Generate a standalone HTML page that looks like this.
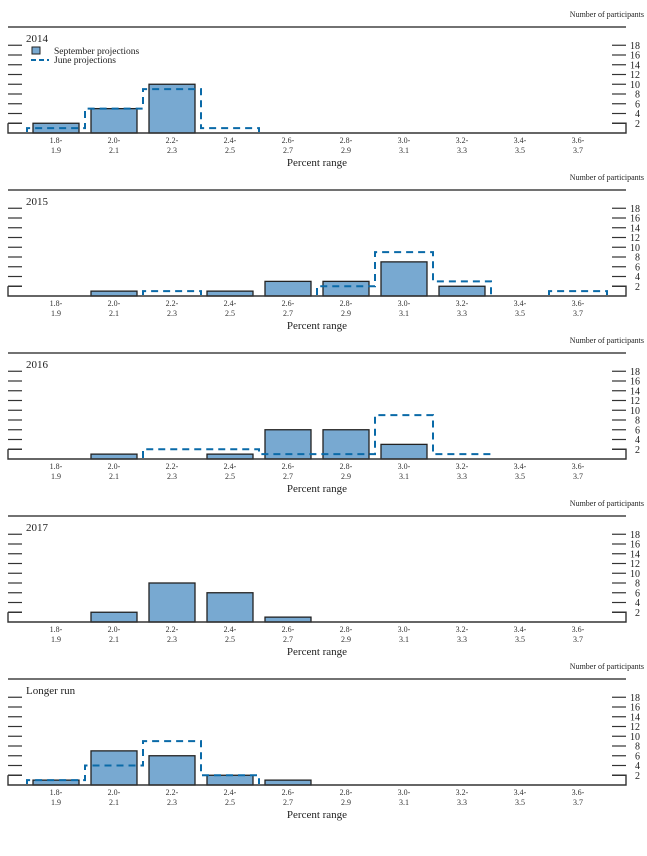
<!DOCTYPE html>
<html><head><meta charset="utf-8"><style>
html,body{margin:0;padding:0;background:#fff;}
svg{display:block;font-family:"Liberation Serif",serif;}
</style></head><body>
<svg id="chart" width="647" height="856" viewBox="0 0 647 856" xmlns="http://www.w3.org/2000/svg"></svg>
<script>
const categories = ["1.8","2.0","2.2","2.4","2.6","2.8","3.0","3.2","3.4","3.6"];
const categoriesHigh = ["1.9","2.1","2.3","2.5","2.7","2.9","3.1","3.3","3.5","3.7"];
const panelTitles = ["2014","2015","2016","2017","Longer run"];
const sept2014 = [2,5,10,0,0,0,0,0,0,0];
const june2014 = [1,5,9,1,0,0,0,0,0,0];
const sept2015 = [0,1,0,1,3,3,7,2,0,0];
const june2015 = [0,0,1,0,0,2,9,3,0,1];
const sept2016 = [0,1,0,1,6,6,3,0,0,0];
const june2016 = [0,0,2,2,1,1,9,1,0,0];
const sept2017 = [0,2,8,6,1,0,0,0,0,0];
const june2017 = null;
const septLR = [1,7,6,2,1,0,0,0,0,0];
const juneLR = [1,4,9,2,0,0,0,0,0,0];
const yTicks = [2,4,6,8,10,12,14,16,18];
const septSeries = [sept2014,sept2015,sept2016,sept2017,septLR];
const juneSeries = [june2014,june2015,june2016,june2017,juneLR];

const svg = document.getElementById('chart');
const NS = 'http://www.w3.org/2000/svg';
function mk(tag, attrs, parent){const e=document.createElementNS(NS,tag);for(const k in attrs)e.setAttribute(k,attrs[k]);(parent||svg).appendChild(e);return e;}
const L=8,R=626,PERIOD=163,CW=58,X0=56,UNIT=4.875;
function xc(i){return X0+i*CW;}

panelTitles.forEach((title,p)=>{
  const off=p*PERIOD, base=133+off;
  const y=v=>base-v*UNIT;
  const g=mk('g',{});
  
  
  let t=mk('text',{x:644,y:17+off,'font-size':8,'text-anchor':'end',fill:'#222'},g);t.textContent='Number of participants';
  
  let ln=mk('line',{x1:L,x2:R,y1:27+off,y2:27+off,stroke:'#444','stroke-width':1.6},g);
  
  t=mk('text',{x:26,y:42+off,'font-size':11,fill:'#222'},g);t.textContent=title;
  
  yTicks.forEach(v=>{
    if(v===2)return;
    const yy=y(v);
    mk('line',{x1:L,x2:22,y1:yy,y2:yy,stroke:'#333','stroke-width':1.2},g);
    mk('line',{x1:612,x2:R,y1:yy,y2:yy,stroke:'#333','stroke-width':1.2},g);
  });
  yTicks.forEach(v=>{
    const tt=mk('text',{x:640,y:y(v)+3.5,'font-size':10,'text-anchor':'end',fill:'#222'},g);tt.textContent=v;
    
  });
  septSeries[p].forEach((v,i)=>{
    if(!v)return;
    const r=mk('rect',{x:xc(i)-23,y:y(v),width:46,height:v*UNIT,fill:'#78a9d1',stroke:'#222','stroke-width':1.3},g);
    
  });
  const jd=juneSeries[p];
  if(jd){
    let d='', inRun=false;
    jd.forEach((v,i)=>{
      const a=xc(i)-29,b=xc(i)+29;
      if(v>0){
        if(!inRun){d+=' M'+a+' '+(y(0)-1)+' L'+a+' '+y(v);inRun=true;}
        else d+=' L'+a+' '+y(v);
        d+=' L'+b+' '+y(v);
      } else if(inRun){
        d+=' L'+a+' '+(y(0)-1);inRun=false;
      }
    });
    if(inRun)d+=' L'+(xc(jd.length-1)+29)+' '+(y(0)-1);
    const pth=mk('path',{d:d,fill:'none',stroke:'#0a6aa8','stroke-width':2,'stroke-dasharray':'7,5'},g);
    
  }
  const ax=mk('path',{d:`M${L} ${y(2)} H22 M${L} ${y(2)} V${base} H${R} V${y(2)} H612`,fill:'none',stroke:'#333','stroke-width':1.4},g);
  
  categories.forEach((c,i)=>{
    let a=mk('text',{x:xc(i),y:base+10,'font-size':8,'text-anchor':'middle',fill:'#333'},g);a.textContent=c+'-';
    
    a=mk('text',{x:xc(i),y:base+20,'font-size':8,'text-anchor':'middle',fill:'#333'},g);a.textContent=categoriesHigh[i];
    
  });
  t=mk('text',{x:317,y:base+33,'font-size':11,'text-anchor':'middle',fill:'#222'},g);t.textContent='Percent range';
  
});
const lg=mk('g',{});

let lr=mk('rect',{x:32,y:47,width:8,height:7,fill:'#78a9d1',stroke:'#222','stroke-width':1},lg);

let lt=mk('text',{x:54,y:54,'font-size':9.5,fill:'#222'},lg);lt.textContent='September projections';

let ll=mk('line',{x1:31,x2:49,y1:60,y2:60,stroke:'#0a6aa8','stroke-width':2,'stroke-dasharray':'5,3'},lg);

lt=mk('text',{x:54,y:63,'font-size':9.5,fill:'#222'},lg);lt.textContent='June projections';

</script>
</body></html>
